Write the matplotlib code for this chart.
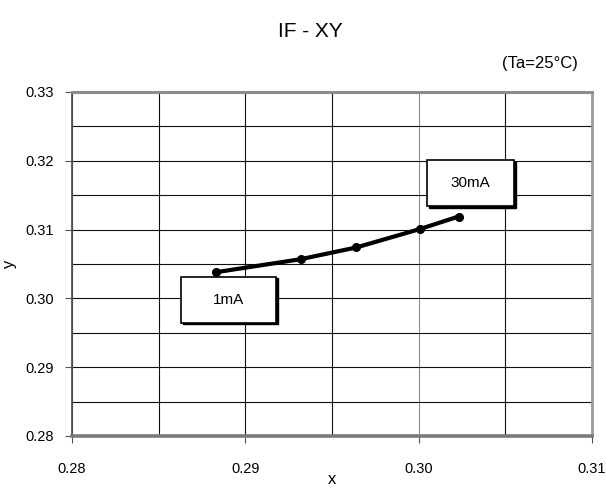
import matplotlib
matplotlib.use("Agg")
import matplotlib.pyplot as plt
from matplotlib.patches import Rectangle
from matplotlib.ticker import MultipleLocator

plt.rcParams["font.family"] = ["Liberation Sans", "DejaVu Sans"]

# chromaticity points from 1mA up to 30mA
x_vals = [0.2883, 0.2932, 0.2964, 0.3001, 0.3023]
y_vals = [0.3038, 0.3057, 0.3074, 0.3101, 0.3119]

x_ticks = [0.28, 0.29, 0.30, 0.31]
y_ticks = [0.28, 0.29, 0.30, 0.31, 0.32, 0.33]
x_tick_labels = ["0.28", "0.29", "0.30", "0.31"]
y_tick_labels = ["0.28", "0.29", "0.30", "0.31", "0.32", "0.33"]

# label boxes: text, (x0, y0, x1, y1) in data units
box_labels = ["1mA", "30mA"]
box_extents = [
    (0.28629, 0.29647, 0.29177, 0.30315),
    (0.30046, 0.31343, 0.30550, 0.32012),
]

fig = plt.figure(figsize=(6.06, 4.88), dpi=100)
ax = fig.add_axes((0.1188, 0.1066, 0.8581, 0.7049))

ax.set_xlim(0.28, 0.31)
ax.set_ylim(0.28, 0.33)
ax.set_xticks(x_ticks)
ax.set_xticklabels(x_tick_labels)
ax.set_yticks(y_ticks)
ax.set_yticklabels(y_tick_labels)
ax.xaxis.set_minor_locator(MultipleLocator(0.005))
ax.yaxis.set_minor_locator(MultipleLocator(0.005))
ax.tick_params(axis="x", which="major", direction="out", length=5,
               width=0.8, pad=14, labelsize=10.5, color="#555555")
ax.tick_params(axis="y", which="major", direction="out", length=5,
               width=0.8, pad=8, labelsize=10.5, color="#555555")
ax.tick_params(which="minor", length=0)

ax.grid(True, which="both", color="#111111", linewidth=0.8)
# the right-hand vertical grid lines come out lighter in the original
for line, xv in zip(ax.get_xgridlines(), x_ticks):
    if xv >= 0.30:
        line.set_color("#8a8a8a")
for tick in ax.xaxis.get_minor_ticks():
    if tick.get_loc() > 0.302:
        tick.gridline.set_color("#8a8a8a")
ax.set_axisbelow(True)

ax.spines["left"].set_color("#555555")
ax.spines["left"].set_linewidth(1.3)
ax.spines["top"].set_color("#8c8c8c")
ax.spines["top"].set_linewidth(2.2)
ax.spines["right"].set_color("#9a9a9a")
ax.spines["right"].set_linewidth(2.0)
ax.spines["bottom"].set_color("#7a7a7a")
ax.spines["bottom"].set_linewidth(2.6)

ax.plot(x_vals, y_vals, color="black", linewidth=3.0,
        marker="o", markersize=5.5, zorder=5)

for label, (x0, y0, x1, y1) in zip(box_labels, box_extents):
    # drop shadow offset down-right
    dx = 0.00012
    dy = 0.00025
    ax.add_patch(Rectangle((x0 + dx, y0 - dy), x1 - x0, y1 - y0,
                           facecolor="black", edgecolor="black",
                           linewidth=1.0, zorder=6))
    ax.add_patch(Rectangle((x0, y0), x1 - x0, y1 - y0,
                           facecolor="white", edgecolor="black",
                           linewidth=1.2, zorder=7))
    ax.text((x0 + x1) / 2, (y0 + y1) / 2, label, ha="center", va="center",
            fontsize=11, zorder=8)

ax.set_xlabel("x", fontsize=12, labelpad=-3)
ax.set_ylabel("y", fontsize=12, labelpad=6)

fig.text(0.5116, 0.936, "IF - XY", ha="center", va="center", fontsize=15)
fig.text(0.891, 0.869, "(Ta=25°C)", ha="center", va="center", fontsize=12)

fig.savefig("out.png", dpi=100)
